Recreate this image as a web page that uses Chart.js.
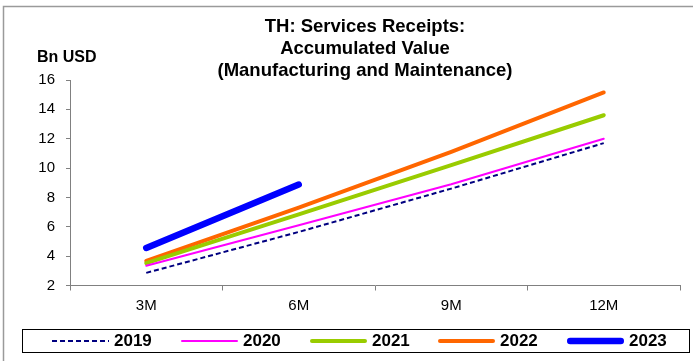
<!DOCTYPE html>
<html>
<head>
<meta charset="utf-8">
<script src="https://cdn.jsdelivr.net/npm/chart.js@4/dist/chart.umd.min.js"></script>
<style>
body { margin: 0; background: #fff; }
#wrap { width: 693px; height: 361px; position: relative; }
</style>
</head>
<body>
<div id="wrap"><canvas id="svc" width="693" height="361"></canvas></div>
<script>
var periods = ["3M", "6M", "9M", "12M"]
var y2019 = [2.86, 5.65, 8.6, 11.7]
var y2020 = [3.34, 6.1, 8.9, 12.0]
var y2021 = [3.52, 6.85, 10.2, 13.6]
var y2022 = [3.68, 7.3, 11.1, 15.15]
var y2023 = [4.56, 8.88, null, null]
var titleLines = ["TH: Services Receipts:", "Accumulated Value", "(Manufacturing and Maintenance)"]

var FONT = "'Liberation Sans', Arial, sans-serif"

function line(label, data, color, width, dash) {
  return {
    label: label, data: data, borderColor: color, backgroundColor: color,
    borderWidth: width, borderDash: dash || [], borderCapStyle: dash ? 'butt' : 'round',
    pointRadius: 0, pointHoverRadius: 0, tension: 0, spanGaps: false, fill: false
  }
}

// title, unit label, frame and boxed legend
var extras = {
  id: 'extras',
  afterDraw(chart) {
    var ctx = chart.ctx
    ctx.save()
    ctx.strokeStyle = '#9a9a9a'
    ctx.lineWidth = 1.5
    ctx.beginPath()
    ctx.moveTo(3.5, 361); ctx.lineTo(3.5, 6.5); ctx.lineTo(693, 6.5)
    ctx.stroke()

    ctx.fillStyle = '#000'
    ctx.textAlign = 'center'
    ctx.textBaseline = 'middle'
    ctx.font = "bold 18.5px " + FONT
    var ys = [27, 48.5, 71]
    titleLines.forEach((t, i) => ctx.fillText(t, 365, ys[i]))

    ctx.textAlign = 'left'
    ctx.font = "bold 16px " + FONT
    ctx.fillText("Bn USD", 37, 58)

    // legend
    ctx.strokeStyle = '#000'
    ctx.lineWidth = 1
    ctx.strokeRect(22.5, 329.5, 667, 23)
    var xs = [52, 181, 310, 438, 567]
    var ly = 341
    ctx.font = "bold 17px " + FONT
    chart.data.datasets.forEach((ds, i) => {
      ctx.beginPath()
      ctx.strokeStyle = ds.borderColor
      ctx.lineWidth = ds.borderWidth
      ctx.setLineDash(ds.borderDash)
      ctx.lineCap = ds.borderCapStyle
      var x0 = xs[i] + (ds.borderCapStyle == 'round' ? ds.borderWidth / 2 : 0)
      var x1 = xs[i] + 57 - (ds.borderCapStyle == 'round' ? ds.borderWidth / 2 : 0)
      ctx.moveTo(x0, ly); ctx.lineTo(x1, ly)
      ctx.stroke()
      ctx.setLineDash([])
      ctx.fillStyle = '#000'
      ctx.fillText(ds.label, xs[i] + 62, ly + 0.5)
    })
    ctx.restore()
  }
}

new Chart("svc", {
  type: "line",
  data: {
    labels: periods,
    datasets: [
      line("2019", y2019, "#000080", 2, [5, 3]),
      line("2020", y2020, "#ff00ff", 2),
      line("2021", y2021, "#99cc00", 4),
      line("2022", y2022, "#ff6600", 4),
      line("2023", y2023, "#0000ff", 6.5)
    ]
  },
  options: {
    responsive: false,
    animation: false,
    layout: { padding: { top: 80, right: 13, bottom: 41, left: 0 } },
    plugins: { legend: { display: false }, title: { display: false }, tooltip: { enabled: false } },
    scales: {
      x: {
        offset: true,
        grid: { offset: true, drawOnChartArea: false, tickLength: 5, color: '#808080' },
        border: { color: '#808080', width: 1 },
        ticks: { color: '#000', padding: 6, font: { family: FONT, size: 15 } },
        afterFit(s) { s.height = 34.5 }
      },
      y: {
        min: 2, max: 16,
        ticks: { stepSize: 2, color: '#000', padding: 11, font: { family: FONT, size: 15 } },
        grid: { drawOnChartArea: false, tickLength: 4, color: '#808080' },
        border: { color: '#808080', width: 1 },
        afterFit(s) { s.width = 70 }
      }
    }
  },
  plugins: [extras]
})
</script>
</body>
</html>
